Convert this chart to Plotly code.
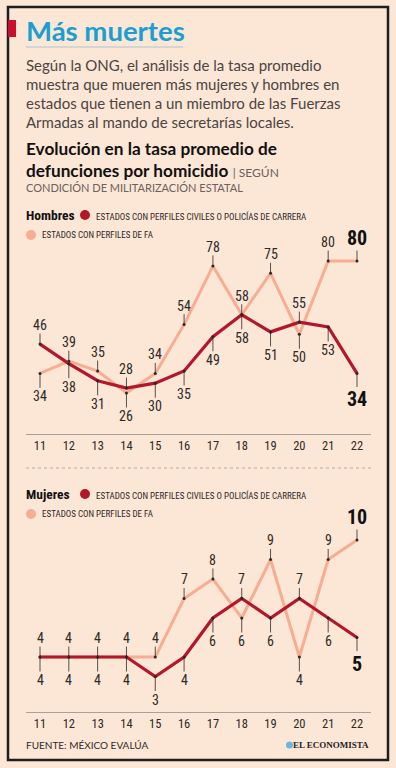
import plotly.graph_objects as go

# ---------------- data ----------------
years = [11, 12, 13, 14, 15, 16, 17, 18, 19, 20, 21, 22]
year_labels = ["11", "12", "13", "14", "15", "16", "17", "18", "19", "20", "21", "22"]

hombres_civiles = [46, 38, 31, 28, 30, 35, 49, 58, 51, 55, 53, 34]
hombres_fa = [34, 39, 35, 26, 34, 54, 78, 58, 75, 50, 80, 80]

mujeres_civiles = [4, 4, 4, 4, 3, 4, 6, 7, 6, 7, 6, 5]
mujeres_fa = [4, 4, 4, 4, 4, 7, 8, 6, 9, 4, 9, 10]

legend_civiles = "ESTADOS CON PERFILES CIVILES O POLICÍAS DE CARRERA"
legend_fa = "ESTADOS CON PERFILES DE FA"

# ---------------- style ----------------
W, H = 396, 768
BG = "#fce6d6"
RED = "#b3172c"
PINK = "#f6ad92"
INK = "#2e2a28"
GRAY = "#4a4542"
COND = "Roboto Condensed, DejaVu Sans Condensed, sans-serif"
SANS = "Lato, Noto Sans, sans-serif"


def px(x):
    return x / W


def py(y):
    return 1 - y / H


fig = go.Figure()

X_LEFT, X_RIGHT = 26, 371
x_range = [10.514, 22.486]

charts = [
    ("x", "y", hombres_civiles, hombres_fa, [9.2, 92.7], (230, 434)),
    ("x2", "y2", mujeres_civiles, mujeres_fa, [1.18, 12.05], (500, 712)),
]

annotations = []
for xa, ya, civ, fa, yr, (top, bot) in charts:
    fig.add_trace(go.Scatter(
        x=years, y=fa, xaxis=xa, yaxis=ya, mode="lines+markers",
        line=dict(color=PINK, width=3), marker=dict(size=3, color=INK),
        hoverinfo="skip", showlegend=False))
    fig.add_trace(go.Scatter(
        x=years, y=civ, xaxis=xa, yaxis=ya, mode="lines+markers",
        line=dict(color=RED, width=3.2), marker=dict(size=3, color=INK),
        hoverinfo="skip", showlegend=False))
    n = len(years)
    for i, yv in enumerate(years):
        c, f = civ[i], fa[i]
        if f >= c:
            above, below = f, c
        else:
            above, below = c, f
        last = i == n - 1
        fsz = 20 if last else 14
        txt_a = f"<b>{above}</b>" if last else str(above)
        txt_b = f"<b>{below}</b>" if last else str(below)
        col = "#111" if last else INK
        annotations.append(dict(
            x=yv, y=above, xref=xa, yref=ya, text=txt_a, showarrow=True,
            ax=0, ay=-23 if last else -19, arrowhead=0, arrowwidth=0.8,
            arrowcolor=INK, font=dict(family=COND, size=fsz, color=col),
            borderpad=0))
        annotations.append(dict(
            x=yv, y=below, xref=xa, yref=ya, text=txt_b, showarrow=True,
            ax=0, ay=26 if last else 23, arrowhead=0, arrowwidth=0.8,
            arrowcolor=INK, font=dict(family=COND, size=fsz, color=col),
            borderpad=0))

axis_common = dict(
    range=x_range, tickmode="array", tickvals=years, ticktext=year_labels,
    showgrid=False, zeroline=False, showline=True, linecolor="#a9a199",
    linewidth=1.3, ticks="", tickfont=dict(family=COND, size=12.5, color=INK),
    fixedrange=True,
)
fig.update_layout(
    xaxis=dict(domain=[px(X_LEFT), px(X_RIGHT)], anchor="y", **axis_common),
    yaxis=dict(domain=[py(434), py(230)], range=charts[0][4], visible=False,
               fixedrange=True),
    xaxis2=dict(domain=[px(X_LEFT), px(X_RIGHT)], anchor="y2", **axis_common),
    yaxis2=dict(domain=[py(712), py(500)], range=charts[1][4], visible=False,
                fixedrange=True),
)


def text(x, y, s, size, color, family=SANS, xanchor="left"):
    annotations.append(dict(
        x=px(x), y=py(y), xref="paper", yref="paper", text=s,
        showarrow=False, xanchor=xanchor, yanchor="middle",
        font=dict(family=family, size=size, color=color), align="left"))


# title block
text(24, 30, "<b>Más muertes</b>", 27.5, "#1a9fd1")
para = [
    "Según la ONG, el análisis de la tasa promedio",
    "muestra que mueren más mujeres y hombres en",
    "estados que tienen a un miembro de las Fuerzas",
    "Armadas al mando de secretarías locales.",
]
for k, line in enumerate(para):
    text(24, 65 + k * 19, line, 15, GRAY)
text(24, 159.5, "<b>Evolución en la tasa promedio de</b><br>"
     "<b>defunciones por homicidio</b> "
     "<span style='font-size:12px;color:#6a625c'>| SEGÚN</span>", 17.2, "#111")
text(24, 188, "CONDICIÓN DE MILITARIZACIÓN ESTATAL", 11, "#6a625c")

# legends
for label, ly in (("Hombres", 215), ("Mujeres", 494)):
    text(24, ly, f"<b>{label}</b>", 13.5, "#111", family=COND)
    text(94, ly + 1, legend_civiles, 9, INK, family=COND)
    text(40, ly + 20, legend_fa, 9, INK, family=COND)

# footer
text(24, 745, "FUENTE: MÉXICO EVALÚA", 10, INK)
text(371, 745, "<b>EL ECONOMISTA</b>", 9, "#222",
     family="Liberation Serif, DejaVu Serif, serif", xanchor="right")

shapes = []
shapes.append(dict(type="rect", xref="paper", yref="paper",
                   x0=px(8), x1=px(388), y0=py(760), y1=py(7),
                   line=dict(color="#1e1e1e", width=2.5)))
shapes.append(dict(type="rect", xref="paper", yref="paper",
                   x0=px(8), x1=px(16), y0=py(37), y1=py(20),
                   fillcolor="#c8102e", line=dict(width=0)))
shapes.append(dict(type="line", xref="paper", yref="paper",
                   x0=px(26), x1=px(183), y0=py(47), y1=py(47),
                   line=dict(color="#a8c8d6", width=1)))
shapes.append(dict(type="line", xref="paper", yref="paper",
                   x0=px(26), x1=px(371), y0=py(468), y1=py(468),
                   line=dict(color="#b8aea6", width=1, dash="dot")))
for ly in (215, 494):
    for cx, cy, col in ((85, ly, RED), (31, ly + 20, PINK)):
        shapes.append(dict(type="circle", xref="paper", yref="paper",
                           x0=px(cx - 5), x1=px(cx + 5),
                           y0=py(cy + 5), y1=py(cy - 5),
                           fillcolor=col, line=dict(width=0)))
shapes.append(dict(type="circle", xref="paper", yref="paper",
                   x0=px(286), x1=px(293), y0=py(748.5), y1=py(741.5),
                   fillcolor="#6bb8d8", line=dict(width=0)))

fig.update_layout(
    width=W, height=H, margin=dict(l=0, r=0, t=0, b=0),
    paper_bgcolor=BG, plot_bgcolor=BG,
    annotations=annotations, shapes=shapes, showlegend=False,
)

fig.write_html("out.html", config={"displayModeBar": False})

# remove the browser's default page margin so the figure sits at (0, 0)
with open("out.html", encoding="utf-8") as fh:
    html = fh.read()
html = html.replace(
    "<head>",
    "<head><style>html,body{margin:0;padding:0;overflow:hidden;"
    "background:#fce6d6}</style>", 1)
with open("out.html", "w", encoding="utf-8") as fh:
    fh.write(html)
